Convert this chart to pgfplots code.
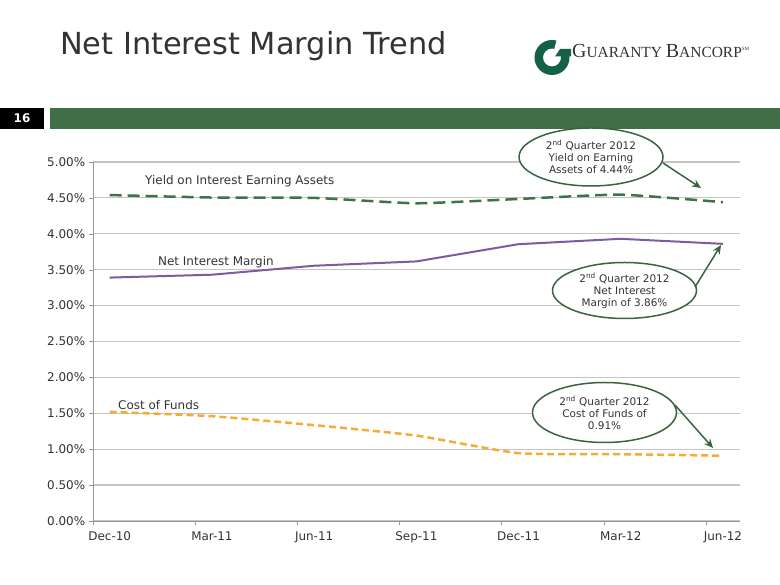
\documentclass[border=0pt]{standalone}
\usepackage{fontspec}
\setmainfont{DejaVu Sans}
\newfontfamily\logofont{Liberation Serif}
\usepackage{pgfplots}
\pgfplotsset{compat=1.18}
\usetikzlibrary{arrows.meta}
\definecolor{yieldgreen}{RGB}{61,117,72}
\definecolor{nimpurple}{RGB}{124,92,160}
\definecolor{coforange}{RGB}{248,170,55}
\definecolor{bargreen}{RGB}{64,110,70}
\definecolor{ringgreen}{RGB}{58,100,64}
\definecolor{logogreen}{RGB}{22,96,72}
\definecolor{gridgray}{RGB}{196,196,196}
\definecolor{titlegray}{RGB}{51,51,51}
\definecolor{axisgray}{RGB}{150,150,150}
\begin{document}
\begin{tikzpicture}[x=1bp,y=1bp]
\path[fill=white] (0,0) rectangle (780,585);
% title
\node[anchor=base west, inner sep=0, text=titlegray, font=\fontsize{30.5}{36}\selectfont] at (60,530) {Net Interest Margin Trend};
% logo mark
\fill[logogreen, even odd rule] (552,527.5) circle (17.5) (552,527.5) circle (9);
\fill[white] (552,527.5) -- ++(15:20) arc (15:75:20) -- cycle;
\fill[logogreen] (555,528.5) -- (571,528.5) -- (571,536) -- (560,536) -- cycle;
\node[anchor=base west, inner sep=0, text=titlegray] at (572,527) {\logofont\fontsize{20}{20}\selectfont G\fontsize{15.5}{15.5}\selectfont UARANTY \fontsize{20}{20}\selectfont B\fontsize{15.5}{15.5}\selectfont ANCORP\raisebox{7bp}{\fontsize{5}{5}\selectfont SM}};
% page number and bar
\fill[black] (0,456) rectangle (44,477);
\node[text=white, font=\bfseries\fontsize{12}{14}\selectfont] at (22,466.5) {16};
\fill[bargreen] (50,456) rectangle (780,477);

\begin{axis}[
  at={(92.7bp,64bp)}, anchor=origin, scale only axis,
  width=647bp, height=359bp,
  xmin=0, xmax=6.33, ymin=0, ymax=5,
  axis x line=bottom, axis y line=left,
  x axis line style={-, draw=axisgray}, y axis line style={-, draw=axisgray},
  xtick={0,1,2,3,4,5,6},
  xticklabels={Dec-10,Mar-11,Jun-11,Sep-11,Dec-11,Mar-12,Jun-12},
  xticklabel style={xshift=17bp, yshift=-3bp},
  ytick={0,0.5,1,1.5,2,2.5,3,3.5,4,4.5,5},
  yticklabel={\pgfmathprintnumber[fixed,fixed zerofill,precision=2]{\tick}\%},
  /pgf/number format/assume math mode=true,
  ymajorgrids, grid style={gridgray, line width=1.2bp},
  tick align=outside, major tick length=4bp, tick style={axisgray},
  ticklabel style={font=\fontsize{12}{14}\selectfont, text=titlegray},
  clip=false,
]
\addplot[yieldgreen, line width=2.5bp, dash pattern=on 12bp off 6bp, smooth, tension=0.3] coordinates {(0.165,4.54)(1.165,4.505)(2.165,4.50)(3.165,4.425)(4.165,4.485)(5.165,4.545)(6.165,4.44)};
\addplot[nimpurple, line width=2bp] coordinates {(0.165,3.39)(1.165,3.43)(2.165,3.555)(3.165,3.615)(4.165,3.855)(5.165,3.93)(6.165,3.86)};
\addplot[coforange, line width=2.5bp, dash pattern=on 7bp off 4bp, smooth, tension=0.3] coordinates {(0.165,1.52)(1.165,1.46)(2.165,1.335)(3.165,1.19)(4.165,0.945)(5.165,0.93)(6.165,0.91)};
\end{axis}

% series labels
\node[anchor=west, inner sep=0, text=titlegray, font=\fontsize{12}{14}\selectfont] at (145,404) {Yield on Interest Earning Assets};
\node[anchor=west, inner sep=0, text=titlegray, font=\fontsize{12}{14}\selectfont] at (158,323) {Net Interest Margin};
\node[anchor=west, inner sep=0, text=titlegray, font=\fontsize{12}{14}\selectfont] at (118,180) {Cost of Funds};

% callouts
\draw[ringgreen, line width=1.5bp, fill=white] (591,428) ellipse (72 and 29);
\node[align=center, text=titlegray, font=\fontsize{10.5}{12}\selectfont] at (591,428) {2\textsuperscript{nd} Quarter 2012\\Yield on Earning\\Assets of 4.44\%};
\draw[ringgreen, line width=1.5bp, -{Stealth[length=9bp,width=8bp]}] (663,422) -- (701,397);

\draw[ringgreen, line width=1.5bp, fill=white] (624.5,294.5) ellipse (72 and 28);
\node[align=center, text=titlegray, font=\fontsize{10.5}{12}\selectfont] at (624.5,294.5) {2\textsuperscript{nd} Quarter 2012\\Net Interest\\Margin of 3.86\%};
\draw[ringgreen, line width=1.5bp, -{Stealth[length=9bp,width=8bp]}] (695,298) -- (721,340);

\draw[ringgreen, line width=1.5bp, fill=white] (604.5,172.5) ellipse (72 and 30);
\node[align=center, text=titlegray, font=\fontsize{10.5}{12}\selectfont] at (604.5,172.5) {2\textsuperscript{nd} Quarter 2012\\Cost of Funds of\\0.91\%};
\draw[ringgreen, line width=1.5bp, -{Stealth[length=9bp,width=8bp]}] (675,180) -- (713,137);

\pgfresetboundingbox
\useasboundingbox (0,0) rectangle (780,585);
\end{tikzpicture}
\end{document}
